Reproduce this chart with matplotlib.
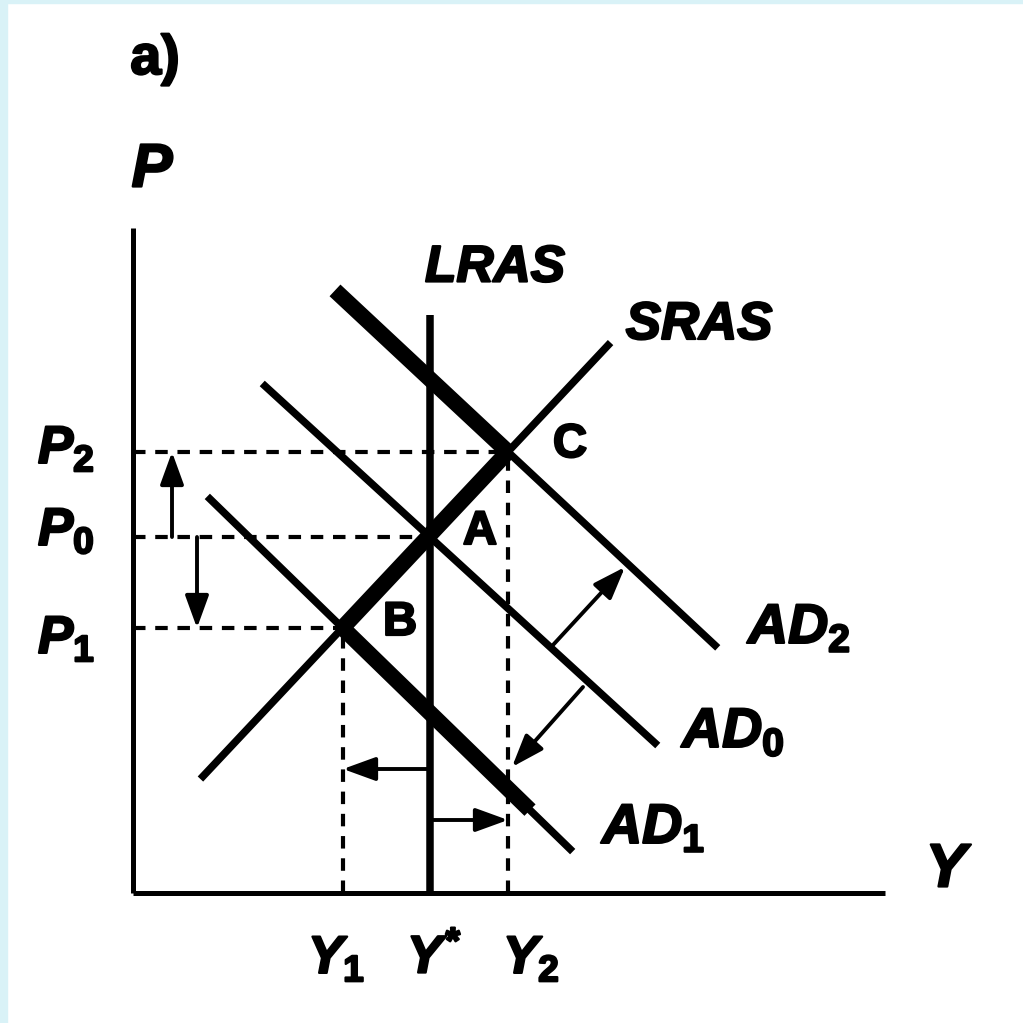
import numpy as np
import matplotlib.pyplot as plt
import matplotlib.patheffects as pe
from matplotlib.patches import Rectangle

plt.rcParams['font.family'] = ['Liberation Sans', 'DejaVu Sans']
plt.rcParams['mathtext.fontset'] = 'custom'
plt.rcParams['mathtext.it'] = 'Liberation Sans:italic:bold'
plt.rcParams['mathtext.rm'] = 'Liberation Sans:bold'
plt.rcParams['mathtext.bf'] = 'Liberation Sans:bold'
plt.rcParams['lines.scale_dashes'] = False

# diagram units, origin at the corner of the axes
y_star = 297
y_1 = 210
y_2 = 375
p_0 = 356
p_1 = 265
p_2 = 441
y_axis_end = 752
p_axis_end = 665
lras_top = 578

sras_y = [70, 475]
sras_p = [116.7, 547.7]
ad0_y = [132, 522]
ad0_p = [507, 150]
ad2_y = [202, 582]
ad2_p = [602.6, 247.7]
ad1_y = [77, 437]
ad1_p = [394, 44]
ad1_thick_end = 397

# shift arrows (from, to)
ad_up_arrow = [(420, 248), (492, 326)]
ad_down_arrow = [(450, 206), (379, 126)]
left_arrow_p = 124
right_arrow_p = 73
p_up_arrow_y = 39
p_down_arrow_y = 64

blue = '#d9f2f7'
thin = 5.4
thick = 11.5

fig = plt.figure(figsize=(10.23, 10.23), dpi=100)
ax = fig.add_axes([0, 0, 1, 1])
ax.set_xlim(-133, 890)
ax.set_ylim(-130, 893)
ax.axis('off')

fig.patches.append(Rectangle((0, 0), 7 / 1023, 1, transform=fig.transFigure, color=blue, zorder=0))
fig.patches.append(Rectangle((0, 1 - 3 / 1023), 1, 3 / 1023, transform=fig.transFigure, color=blue, zorder=0))

# dashed guide lines
dash = dict(color='black', lw=3.0, dashes=(9, 7), zorder=1)
ax.plot([0, y_2], [p_2, p_2], **dash)
ax.plot([0, y_star], [p_0, p_0], **dash)
ax.plot([0, y_1], [p_1, p_1], **dash)
ax.plot([y_1, y_1], [0, p_1], **dash)
ax.plot([y_2, y_2], [0, p_2], **dash)

# axes
ax.plot([0, 0], [0, p_axis_end], color='black', lw=3.6, solid_capstyle='butt', zorder=3)
ax.plot([0, y_axis_end], [0, 0], color='black', lw=3.6, solid_capstyle='butt', zorder=3)

# curves
ax.plot([y_star, y_star], [0, lras_top], color='black', lw=thin, solid_capstyle='butt', zorder=3)
ax.plot(sras_y, sras_p, color='black', lw=thin, zorder=3)
ax.plot(ad0_y, ad0_p, color='black', lw=thin, zorder=3)
sx = [y_2, ad2_y[1]]
ax.plot(sx, np.interp(sx, ad2_y, ad2_p), color='black', lw=thin, zorder=3)
ax.plot(ad1_y, ad1_p, color='black', lw=thin, zorder=3)

# thick segments
sx = [y_1, y_2]
ax.plot(sx, np.interp(sx, sras_y, sras_p), color='black', lw=thick, solid_capstyle='butt', zorder=4)
sx = [ad2_y[0], y_2]
ax.plot(sx, np.interp(sx, ad2_y, ad2_p), color='black', lw=thick, solid_capstyle='butt', zorder=4)
sx = [y_1, ad1_thick_end]
ax.plot(sx, np.interp(sx, ad1_y, ad1_p), color='black', lw=thick, solid_capstyle='butt', zorder=4)

# arrows
aprops = dict(arrowstyle='-|>,head_length=0.55,head_width=0.2', color='black', lw=2.8,
              mutation_scale=36, shrinkA=0, shrinkB=0)
def arrow(start, end):
    ax.annotate('', xy=end, xytext=start, arrowprops=aprops, zorder=5)

arrow((p_up_arrow_y, p_0), (p_up_arrow_y, p_2))
arrow((p_down_arrow_y, p_0), (p_down_arrow_y, p_1))
arrow(ad_up_arrow[0], ad_up_arrow[1])
arrow(ad_down_arrow[0], ad_down_arrow[1])
arrow((y_star, left_arrow_p), (y_1, left_arrow_p))
arrow((y_star, right_arrow_p), (y_2, right_arrow_p))

# labels (a light stroke gives the heavy printed look)
heavy = [pe.withStroke(linewidth=1.6, foreground='black')]
bi = dict(fontweight='bold', fontstyle='italic', color='black', path_effects=heavy)
b = dict(fontweight='bold', color='black', path_effects=heavy)
m = dict(color='black', path_effects=heavy)
ax.text(22, 833, 'a)', fontsize=40, ha='center', va='center', **b)
ax.text(19, 722, 'P', fontsize=44, ha='center', va='center', **bi)
ax.text(813, 22, 'Y', fontsize=44, ha='center', va='center', **bi)
ax.text(362, 625, 'LRAS', fontsize=37, ha='center', va='center', **bi)
ax.text(566, 568, 'SRAS', fontsize=38, ha='center', va='center', **bi)
ax.text(437, 448, 'C', fontsize=34, ha='center', va='center', **b)
ax.text(347, 361, 'A', fontsize=34, ha='center', va='center', **b)
ax.text(267, 270, 'B', fontsize=34, ha='center', va='center', **b)

ax.text(615, 250, r'$AD_{2}$', fontsize=40, ha='left', va='baseline', **m)
ax.text(549, 146, r'$AD_{0}$', fontsize=40, ha='left', va='baseline', **m)
ax.text(469, 50, r'$AD_{1}$', fontsize=40, ha='left', va='baseline', **m)

ax.text(-95, 430, r'$P_{2}$', fontsize=38, ha='left', va='baseline', **m)
ax.text(-95, 348, r'$P_{0}$', fontsize=38, ha='left', va='baseline', **m)
ax.text(-95, 240, r'$P_{1}$', fontsize=38, ha='left', va='baseline', **m)

ax.text(175, -80, r'$Y_{1}$', fontsize=38, ha='left', va='baseline', **m)
ax.text(274, -80, r'$Y^{*}$', fontsize=38, ha='left', va='baseline', **m)
ax.text(370, -80, r'$Y_{2}$', fontsize=38, ha='left', va='baseline', **m)

fig.savefig('out.png', dpi=100)
